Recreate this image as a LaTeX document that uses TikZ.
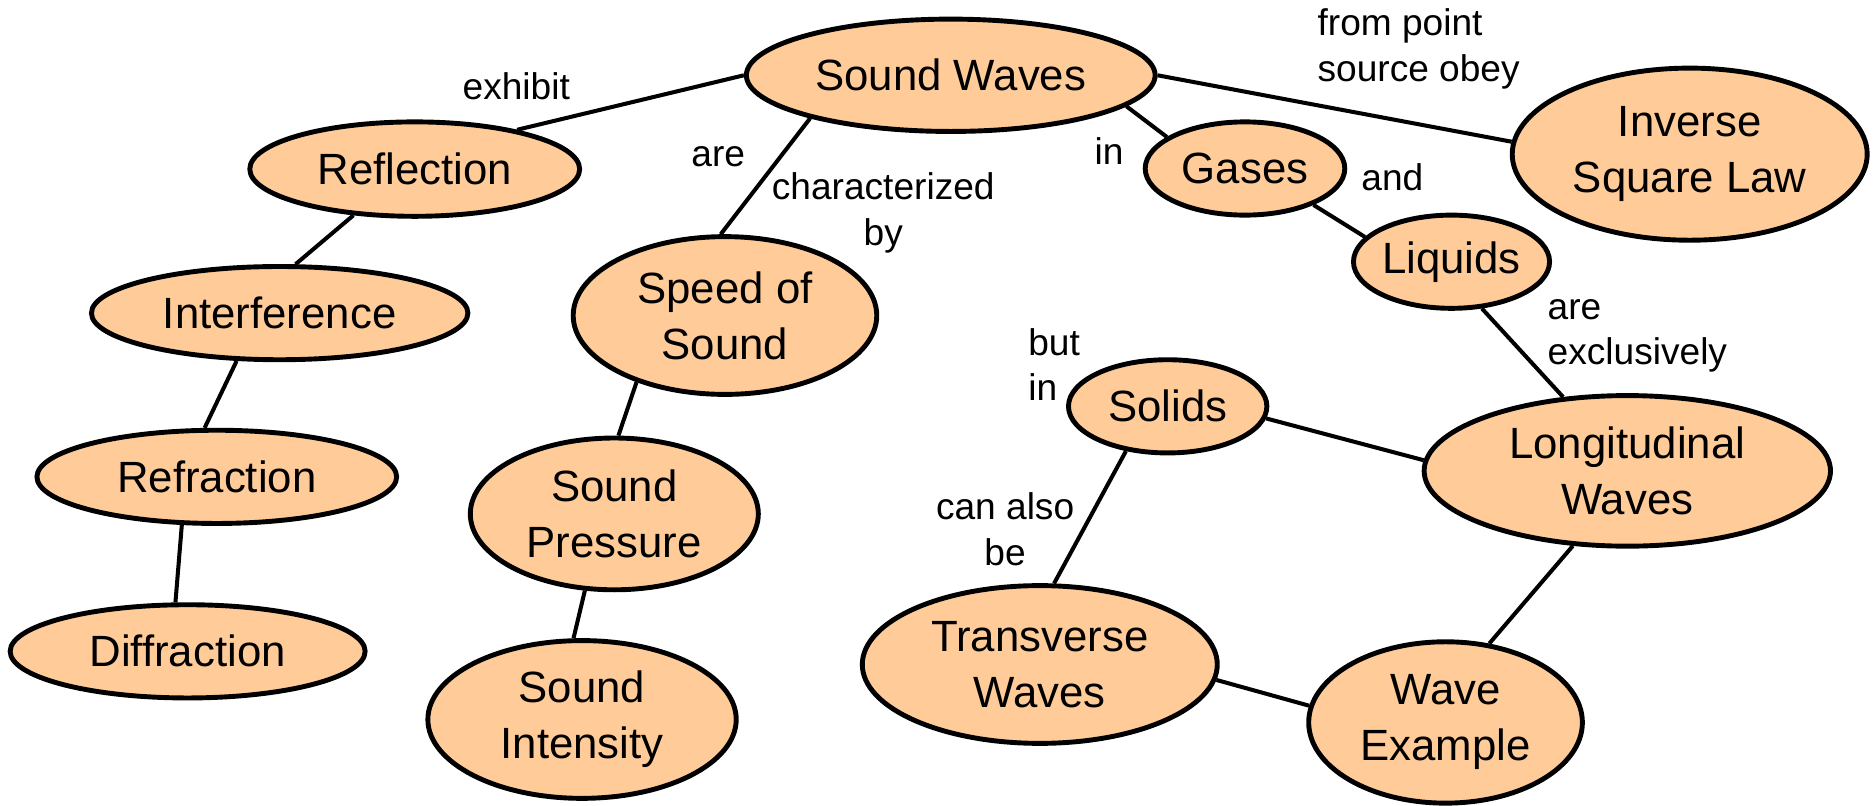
\documentclass[tikz,border=0pt]{standalone}
\usepackage{fontspec}
\setmainfont{Liberation Sans}
\usetikzlibrary{shapes.geometric}
\definecolor{peach}{HTML}{FFCC99}
\begin{document}
\begin{tikzpicture}[x=0.12mm,y=-0.12mm,
  concept/.style={ellipse,draw=black,fill=peach,line width=1.4pt,inner sep=0pt,align=center,font=\fontsize{12.5}{16}\selectfont},
  link/.style={line width=1.15pt,black},
  lbl/.style={font=\fontsize{10.6}{13}\selectfont,inner sep=0pt}]
\useasboundingbox (0,0) rectangle (1568,674);
% size helper: width and height in picture units (0.12mm)
\tikzset{sz/.style 2 args={minimum width=#1*0.12mm,minimum height=#2*0.12mm}}
% nodes
\node[concept,sz={342}{94}] (sw) at (795.5,63) {Sound Waves};
\node[concept,sz={276}{79}] (refl) at (347,141.5) {Reflection};
\node[concept,sz={315}{78}] (intf) at (234,262) {Interference};
\node[concept,sz={301}{78}] (refr) at (181.4,399) {Refraction};
\node[concept,sz={297}{78}] (diff) at (157,545) {Diffraction};
\node[concept,sz={254}{132}] (speed) at (606.6,264) {Speed of\\Sound};
\node[concept,sz={241}{127}] (press) at (514,430) {Sound\\Pressure};
\node[concept,sz={258}{132}] (inten) at (487,602) {Sound\\Intensity};
\node[concept,sz={167}{78}] (gas) at (1041.7,141) {Gases};
\node[concept,sz={297}{144}] (isl) at (1413.8,129) {Inverse\\Square Law};
\node[concept,sz={163}{78}] (liq) at (1214.5,219) {Liquids};
\node[concept,sz={166}{78}] (sol) at (977,340) {Solids};
\node[concept,sz={340}{126}] (long) at (1361.6,394) {Longitudinal\\Waves};
\node[concept,sz={297}{132}] (trans) at (870,556) {Transverse\\Waves};
\node[concept,sz={229}{135}] (wave) at (1209.5,604.5) {Wave\\Example};
% links
\draw[link] (sw.180) -- (refl.21);
\draw[link] (sw.197) -- (speed.93);
\draw[link] (sw.350) -- (gas.158);
\draw[link] (sw.0) -- (isl.176);
\draw[link] (refl.217) -- (intf.72);
\draw[link] (intf.228) -- (refr.104);
\draw[link] (refr.234) -- (diff.104);
\draw[link] (speed.217) -- (press.87);
\draw[link] (press.249) -- (inten.96);
\draw[link] (gas.332) -- (liq.164);
\draw[link] (liq.303) -- (long.131);
\draw[link] (sol.353) -- (long.177);
\draw[link] (sol.227) -- (trans.80);
\draw[link] (long.234) -- (wave.61);
\draw[link] (trans.355) -- (wave.173);
% labels
\node[lbl] (l1) at (432,72) {exhibit};
\node[lbl] (l2) at (601,131) {are};
\node[lbl,align=center] (l3) at (739,178) {characterized\\by};
\node[lbl] (l4) at (928,126) {in};
\node[lbl,align=left] (l5) at (1187,41) {from point\\source obey};
\node[lbl] (l6) at (1165,148) {and};
\node[lbl,align=left] (l7) at (1370,281) {are\\exclusively};
\node[lbl,align=left] (l8) at (882,305) {but\\in};
\node[lbl,align=center] (l9) at (841,443) {can also\\be};
\end{tikzpicture}
\end{document}
